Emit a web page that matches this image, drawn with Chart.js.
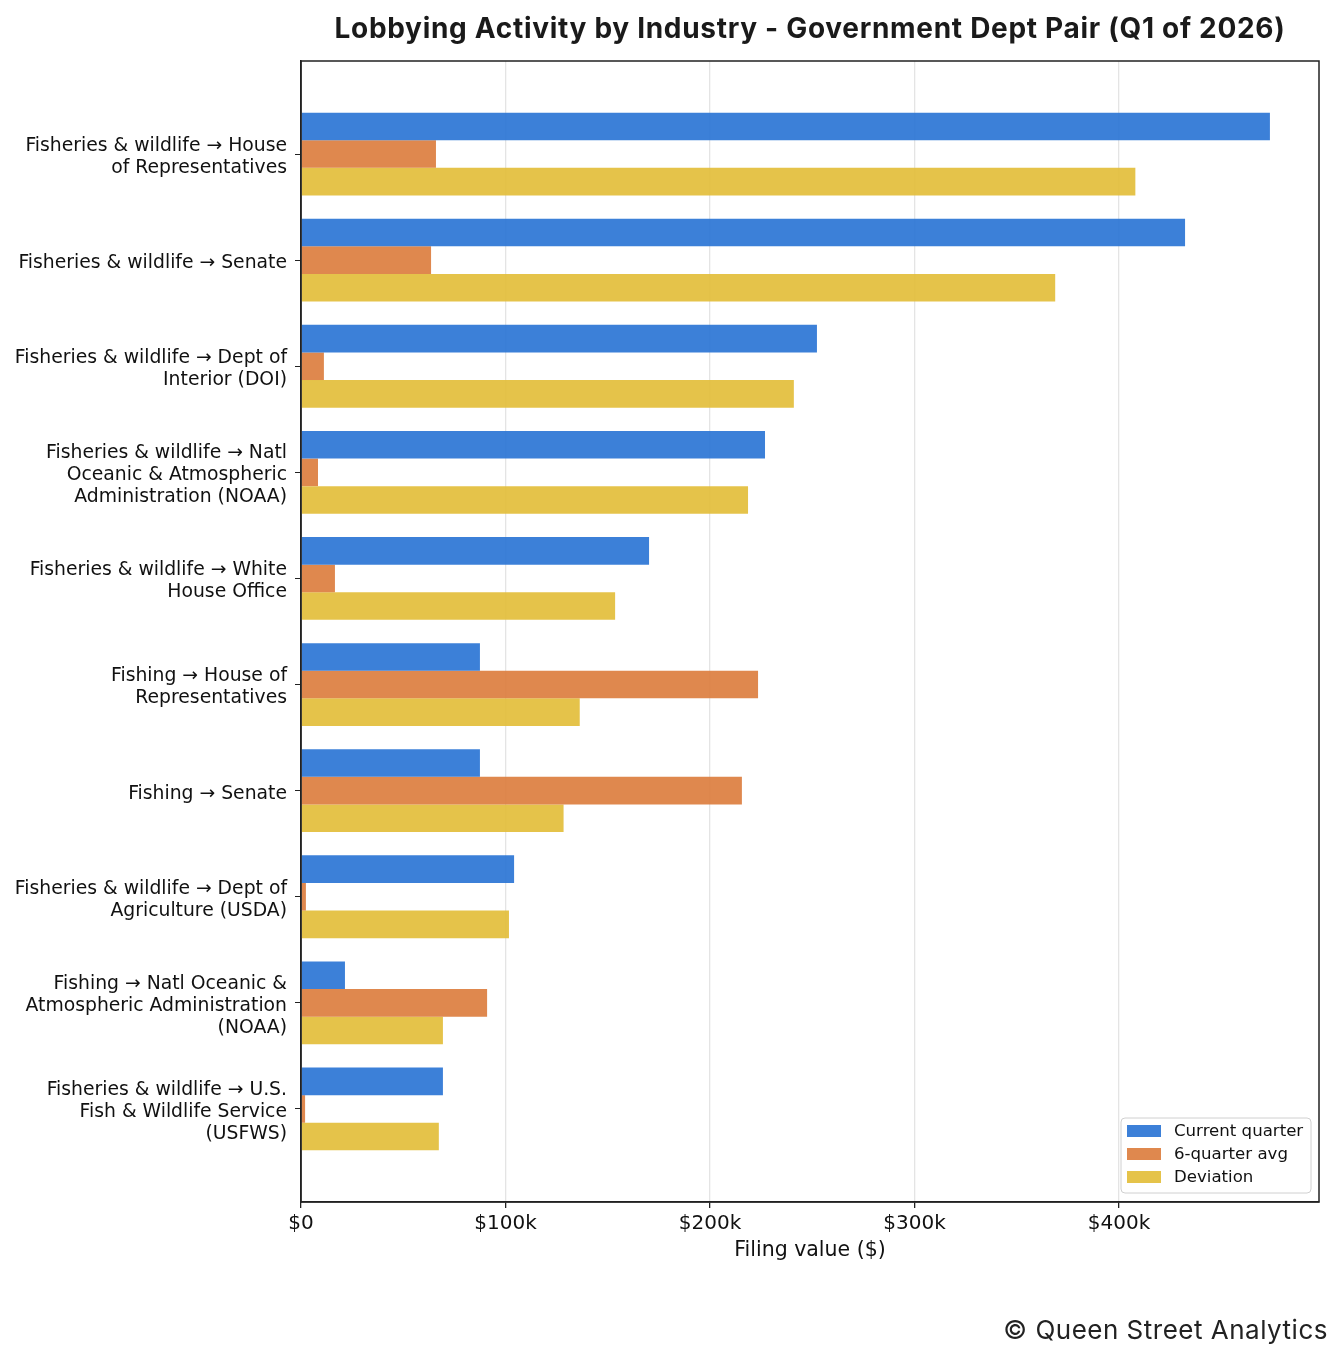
<!DOCTYPE html>
<html>
<head>
<meta charset="utf-8">
<title>Lobbying Activity by Industry</title>
<script src="https://cdn.jsdelivr.net/npm/chart.js@4/dist/chart.umd.min.js"></script>
<style>
  html, body { margin: 0; padding: 0; background: #fff; }
  #wrap { width: 1343px; height: 1359px; position: relative; }
  .txt { position: absolute; font-family: Inter, sans-serif; color: #1a1a1a; white-space: nowrap; line-height: 1; }
  #title { top: 14px; left: 810px; transform: translateX(-50%); font-size: 28px; font-weight: bold; letter-spacing: 0.7px; }
  #credit { top: 1317px; right: 15px; font-size: 26px; letter-spacing: 0.5px; color: #222; }
</style>
</head>
<body>
<div id="wrap">
  <canvas id="lobbyChart"></canvas>
  <div class="txt" id="title">Lobbying Activity by Industry - Government Dept Pair (Q1 of 2026)</div>
  <div class="txt" id="credit">&copy; Queen Street Analytics</div>
</div>
<script>
// categories (top to bottom), labels split into lines like the reference
const categories = [
  ['Fisheries & wildlife \u2192 House', 'of Representatives'],
  ['Fisheries & wildlife \u2192 Senate'],
  ['Fisheries & wildlife \u2192 Dept of', 'Interior (DOI)'],
  ['Fisheries & wildlife \u2192 Natl', 'Oceanic & Atmospheric', 'Administration (NOAA)'],
  ['Fisheries & wildlife \u2192 White', 'House Office'],
  ['Fishing \u2192 House of', 'Representatives'],
  ['Fishing \u2192 Senate'],
  ['Fisheries & wildlife \u2192 Dept of', 'Agriculture (USDA)'],
  ['Fishing \u2192 Natl Oceanic &', 'Atmospheric Administration', '(NOAA)'],
  ['Fisheries & wildlife \u2192 U.S.', 'Fish & Wildlife Service', '(USFWS)']
];
const currentQuarter = [473800, 432300, 252300, 226900, 170200, 87500, 87500, 104200, 21500, 69400];
const sixQuarterAvg  = [66000, 63600, 11200, 8300, 16600, 223500, 215600, 2400, 91000, 2000];
const deviation      = [408000, 368800, 241000, 218600, 153600, 136300, 128400, 101700, 69400, 67400];
const seriesNames = ['Current quarter', '6-quarter avg', 'Deviation'];
const xTicks = [0, 100000, 200000, 300000, 400000];

const colors = ['rgba(39,114,212,0.9)', 'rgba(219,123,59,0.9)', 'rgba(226,188,54,0.9)'];

function toPoints(arr) {
  return arr.map(function (v, i) { return { x: v, y: i }; });
}

// frame and legend box inside the plot
const extrasPlugin = {
  id: 'extras',
  afterDraw: function (chart) {
    const ctx = chart.ctx;
    const a = chart.chartArea;
    ctx.save();
    ctx.strokeStyle = '#222';
    ctx.lineWidth = 1.5;
    ctx.strokeRect(a.left, a.top, a.right - a.left, a.bottom - a.top);

    const bx = a.right - 198, by = a.bottom - 84, bw = 190, bh = 75;
    ctx.beginPath();
    ctx.roundRect(bx, by, bw, bh, 4);
    ctx.fillStyle = 'rgba(255,255,255,0.8)';
    ctx.fill();
    ctx.strokeStyle = '#d0d0d0';
    ctx.lineWidth = 1;
    ctx.stroke();
    ctx.font = '16.6px "DejaVu Sans"';
    ctx.textAlign = 'left';
    ctx.textBaseline = 'middle';
    chart.data.datasets.forEach(function (ds, i) {
      const ry = by + 13 + i * 23;
      ctx.fillStyle = ds.backgroundColor;
      ctx.fillRect(bx + 6, ry - 6, 34, 12);
      ctx.fillStyle = '#111';
      ctx.fillText(ds.label, bx + 53, ry + 1);
    });
    ctx.restore();
  }
};

const ctx = document.getElementById('lobbyChart').getContext('2d');
const lobbyChart = new Chart(ctx, {
  type: 'bar',
  data: {
    datasets: [
      { label: seriesNames[0], data: toPoints(currentQuarter), backgroundColor: colors[0] },
      { label: seriesNames[1], data: toPoints(sixQuarterAvg), backgroundColor: colors[1] },
      { label: seriesNames[2], data: toPoints(deviation), backgroundColor: colors[2] }
    ]
  },
  options: {
    indexAxis: 'y',
    responsive: true,
    maintainAspectRatio: false,
    animation: false,
    layout: { padding: { top: 61, right: 24, bottom: 0, left: 0 } },
    datasets: {
      bar: { categoryPercentage: 0.78, barPercentage: 1.0, borderWidth: 0 }
    },
    plugins: {
      legend: { display: false },
      title: { display: false },
      tooltip: { enabled: false }
    },
    scales: {
      x: {
        type: 'linear',
        min: 0,
        max: 497800,
        afterFit: function (scale) { scale.height = 157; },
        afterBuildTicks: function (scale) {
          scale.ticks = xTicks.map(function (v) { return { value: v }; });
        },
        ticks: {
          color: '#111',
          font: { family: 'DejaVu Sans', size: 20 },
          padding: 4,
          maxRotation: 0,
          callback: function (v) { return v === 0 ? '$0' : '$' + (v / 1000) + 'k'; }
        },
        grid: { color: '#e4e4e4', lineWidth: 1.3, tickColor: '#222', tickLength: 6 },
        border: { color: '#222', width: 1.5 },
        title: {
          display: true,
          text: 'Filing value ($)',
          color: '#111',
          font: { family: 'DejaVu Sans', size: 20.5 },
          padding: { top: 0, bottom: 96 }
        }
      },
      y: {
        type: 'linear',
        reverse: true,
        offset: false,
        min: -0.877,
        max: 9.877,
        afterFit: function (scale) { scale.width = 301; },
        afterBuildTicks: function (scale) {
          scale.ticks = categories.map(function (c, i) { return { value: i }; });
        },
        ticks: {
          color: '#111',
          font: { family: 'DejaVu Sans', size: 18.8, lineHeight: 1.17 },
          padding: 8,
          labelOffset: 3,
          autoSkip: false,
          callback: function (v) { return categories[v]; }
        },
        grid: { offset: false, drawOnChartArea: false, tickColor: '#222', tickLength: 6 },
        border: { color: '#222', width: 1.5 }
      }
    }
  },
  plugins: [extrasPlugin]
});
</script>
</body>
</html>
